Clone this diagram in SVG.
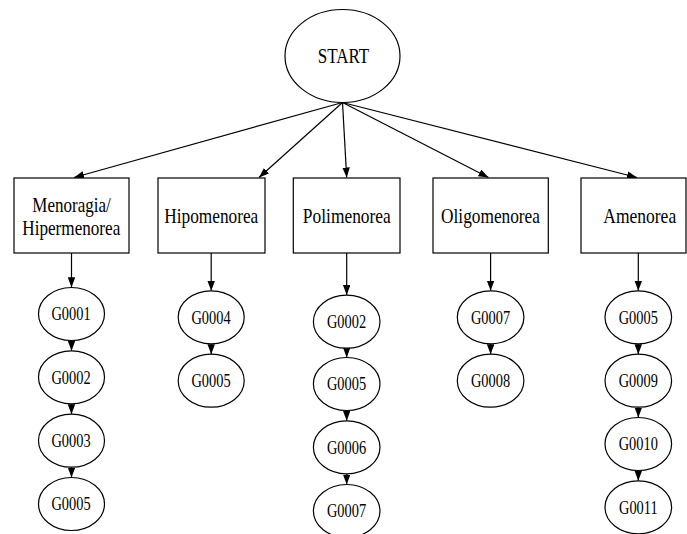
<svg xmlns="http://www.w3.org/2000/svg" width="687" height="534" viewBox="0 0 687 534" font-family="Liberation Serif, Times New Roman, serif" text-anchor="middle">
<style>
  .n { fill: #fff; stroke: #000; stroke-width: 1.2; }
  .c { stroke: #000; stroke-width: 1.2; fill: none; marker-end: url(#ah); }
</style>
<defs>
  <marker id="ah" markerUnits="userSpaceOnUse" markerWidth="11" markerHeight="8" refX="10" refY="3.75" orient="auto">
    <path d="M0,0 L10,3.75 L0,7.5 z" fill="#000"/>
  </marker>
</defs>
<rect width="687" height="534" fill="#fff"/>

<g id="connectors">
  <line class="c" x1="342.5" y1="102.5" x2="74" y2="177.5"/>
  <line class="c" x1="342.5" y1="102.5" x2="259" y2="177.5"/>
  <line class="c" x1="342.5" y1="102.5" x2="346.7" y2="177.5"/>
  <line class="c" x1="342.5" y1="102.5" x2="488.5" y2="177.5"/>
  <line class="c" x1="342.5" y1="102.5" x2="637" y2="177.5"/>

  <line class="c" x1="71.5" y1="253" x2="71.5" y2="287.3"/>
  <line class="c" x1="71.5" y1="340.5" x2="71.5" y2="350.8"/>
  <line class="c" x1="71.5" y1="403.8" x2="71.5" y2="414.2"/>
  <line class="c" x1="71.5" y1="467.2" x2="71.5" y2="477.5"/>

  <line class="c" x1="211.2" y1="253" x2="211.2" y2="290.8"/>
  <line class="c" x1="211.2" y1="343.8" x2="211.2" y2="354.2"/>

  <line class="c" x1="346.7" y1="253" x2="346.7" y2="295"/>
  <line class="c" x1="346.7" y1="348.2" x2="346.7" y2="357.5"/>
  <line class="c" x1="346.7" y1="410.2" x2="346.7" y2="420.8"/>
  <line class="c" x1="346.7" y1="473.8" x2="346.7" y2="484.5"/>

  <line class="c" x1="490.6" y1="253" x2="490.6" y2="290.8"/>
  <line class="c" x1="490.6" y1="343.8" x2="490.6" y2="354.2"/>

  <line class="c" x1="638.3" y1="253" x2="638.3" y2="290.8"/>
  <line class="c" x1="638.3" y1="343.8" x2="638.3" y2="354.2"/>
  <line class="c" x1="638.3" y1="407.2" x2="638.3" y2="417.5"/>
  <line class="c" x1="638.3" y1="470.5" x2="638.3" y2="480.8"/>
</g>

<g id="start">
  <ellipse class="n" cx="342.5" cy="56" rx="57.5" ry="46.5"/>
  <text font-family="Liberation Serif" font-size="21" transform="translate(343.5 0) scale(0.812 1)" x="0" y="62.8">START</text>
</g>

<g id="menoragia" font-family="Liberation Serif" font-size="21">
  <rect class="n" x="14" y="178" width="115" height="75"/>
  <text transform="translate(71.5 0) scale(0.81 1)" x="0" y="211.8">Menoragia/</text>
  <text transform="translate(71.3 0) scale(0.816 1)" x="0" y="235.3">Hipermenorea</text>
</g>
<g id="hipomenorea" font-family="Liberation Serif" font-size="21">
  <rect class="n" x="158" y="178" width="107" height="75"/>
  <text transform="translate(211.3 0) scale(0.822 1)" x="0" y="223.3">Hipomenorea</text>
</g>
<g id="polimenorea" font-family="Liberation Serif" font-size="21">
  <rect class="n" x="293.3" y="178" width="106.7" height="75"/>
  <text transform="translate(346.8 0) scale(0.829 1)" x="0" y="223.3">Polimenorea</text>
</g>
<g id="oligomenorea" font-family="Liberation Serif" font-size="21">
  <rect class="n" x="433" y="178" width="115.3" height="75"/>
  <text transform="translate(490.5 0) scale(0.824 1)" x="0" y="223.3">Oligomenorea</text>
</g>
<g id="amenorea" font-family="Liberation Serif" font-size="21">
  <rect class="n" x="581" y="178" width="105" height="75"/>
  <text transform="translate(639.7 0) scale(0.834 1)" x="0" y="223.3">Amenorea</text>
</g>

<g font-family="Liberation Serif" font-size="19">
<g id="c1-g0001"><ellipse class="n" cx="71.5" cy="314" rx="33" ry="26.5"/><text transform="translate(71 0) scale(0.757 1)" x="0" y="320.5">G0001</text></g>
<g id="c1-g0002"><ellipse class="n" cx="71.5" cy="377.3" rx="33" ry="26.5"/><text transform="translate(71 0) scale(0.757 1)" x="0" y="383.8">G0002</text></g>
<g id="c1-g0003"><ellipse class="n" cx="71.5" cy="440.7" rx="33" ry="26.5"/><text transform="translate(71 0) scale(0.757 1)" x="0" y="447.2">G0003</text></g>
<g id="c1-g0005"><ellipse class="n" cx="71.5" cy="504" rx="33" ry="26.5"/><text transform="translate(71 0) scale(0.757 1)" x="0" y="510.5">G0005</text></g>

<g id="c2-g0004"><ellipse class="n" cx="211.2" cy="317.3" rx="33" ry="26.5"/><text transform="translate(211 0) scale(0.757 1)" x="0" y="323.8">G0004</text></g>
<g id="c2-g0005"><ellipse class="n" cx="211.2" cy="380.7" rx="33" ry="26.5"/><text transform="translate(211 0) scale(0.757 1)" x="0" y="387.2">G0005</text></g>

<g id="c3-g0002"><ellipse class="n" cx="346.7" cy="321.7" rx="33.3" ry="26.5"/><text transform="translate(346.5 0) scale(0.757 1)" x="0" y="328.2">G0002</text></g>
<g id="c3-g0005"><ellipse class="n" cx="346.7" cy="384" rx="33.3" ry="26.5"/><text transform="translate(346.5 0) scale(0.757 1)" x="0" y="390.5">G0005</text></g>
<g id="c3-g0006"><ellipse class="n" cx="346.7" cy="447.3" rx="33.3" ry="26.5"/><text transform="translate(346.5 0) scale(0.757 1)" x="0" y="453.8">G0006</text></g>
<g id="c3-g0007"><ellipse class="n" cx="346.7" cy="511" rx="33.3" ry="26.5"/><text transform="translate(346.5 0) scale(0.757 1)" x="0" y="517.5">G0007</text></g>

<g id="c4-g0007"><ellipse class="n" cx="490.6" cy="317.3" rx="33.3" ry="26.5"/><text transform="translate(490.5 0) scale(0.757 1)" x="0" y="323.8">G0007</text></g>
<g id="c4-g0008"><ellipse class="n" cx="490.6" cy="380.7" rx="33.3" ry="26.5"/><text transform="translate(490.5 0) scale(0.757 1)" x="0" y="387.2">G0008</text></g>

<g id="c5-g0005"><ellipse class="n" cx="638.3" cy="317.3" rx="33.3" ry="26.5"/><text transform="translate(638.3 0) scale(0.757 1)" x="0" y="323.8">G0005</text></g>
<g id="c5-g0009"><ellipse class="n" cx="638.3" cy="380.7" rx="33.3" ry="26.5"/><text transform="translate(638.3 0) scale(0.757 1)" x="0" y="387.2">G0009</text></g>
<g id="c5-g0010"><ellipse class="n" cx="638.3" cy="444" rx="33.3" ry="26.5"/><text transform="translate(638.3 0) scale(0.757 1)" x="0" y="450.5">G0010</text></g>
<g id="c5-g0011"><ellipse class="n" cx="638.3" cy="507.3" rx="33.3" ry="26.5"/><text transform="translate(638.3 0) scale(0.757 1)" x="0" y="513.8">G0011</text></g>
</g>
</svg>
